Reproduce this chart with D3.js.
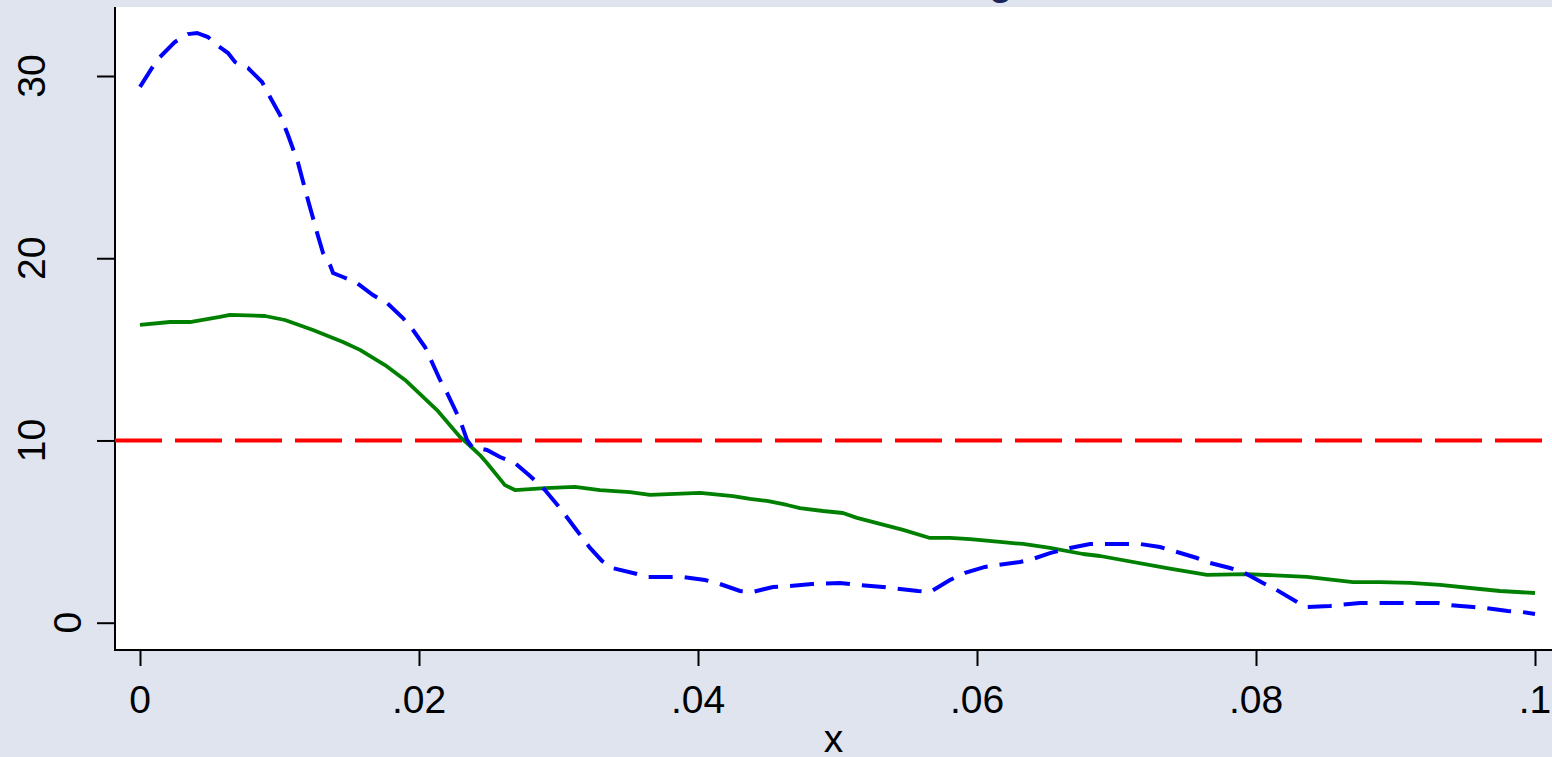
<!DOCTYPE html>
<html>
<head>
<meta charset="utf-8">
<script src="https://cdn.jsdelivr.net/npm/d3@7/dist/d3.min.js"></script>
<style>
    body { margin: 0; background: #dfe4ef; }
    svg { display: block; }
    text { font-family: "Liberation Sans", Arial, sans-serif; }
</style>
</head>
<body>
<div id="chart-area"></div>
<script>
// values
var blueX = [0, .00086, .00143, .00251, .00344, .00409, .00487, .00559, .00631, .00681,
    .00774, .00875, .00932, .01004, .01061, .01133, .01204, .01276, .01312, .01362,
    .01384, .01455, .01556, .01670, .01771, .01885, .01957, .02043, .02151, .02201,
    .02294, .02344, .02380, .02487, .02581, .02688, .02796, .02903, .03011, .03118,
    .03226, .03312, .03384, .03534, .03642, .03892, .04050, .04136, .04301, .04387,
    .04538, .04645, .04817, .05018, .05161, .05326, .05577, .05663, .05806, .05914,
    .06057, .06151, .06308, .06401, .06523, .06667, .06810, .07168, .07312, .07434,
    .07577, .07670, .07814, .07907, .08050, .08136, .08294, .08351, .08530, .08746,
    .09032, .09305, .09391, .09556, .09656, .09806, .09907, .1];
var blueY = [29.40, 30.44, 31.04, 31.87, 32.30, 32.36, 32.14, 31.65, 31.26, 30.77,
    30.44, 29.67, 28.85, 27.86, 26.76, 25.23, 23.20, 21.22, 20.29, 19.63,
    19.19, 18.97, 18.64, 17.98, 17.54, 16.72, 16.06, 15.13, 13.32, 12.61,
    11.12, 10.03, 9.64, 9.48, 9.09, 8.76, 8.05, 7.28, 6.29, 5.20,
    4.10, 3.39, 3.00, 2.73, 2.51, 2.51, 2.34, 2.18, 1.74, 1.68,
    1.96, 2.01, 2.12, 2.18, 2.07, 1.96, 1.74, 1.68, 2.34, 2.73,
    3.06, 3.17, 3.33, 3.50, 3.82, 4.10, 4.32, 4.32, 4.15, 3.88,
    3.55, 3.28, 3.00, 2.78, 2.18, 1.85, 1.14, 0.86, 0.92, 1.08,
    1.08, 1.08, 0.97, 0.86, 0.80, 0.64, 0.59, 0.48];

var greenX = [0, .00215, .00358, .00573, .00645, .00896, .01039, .01240, .01455, .01577,
    .01756, .01900, .02129, .02294, .02344, .02437, .02487, .02616, .02688, .02903,
    .03118, .03297, .03513, .03656, .04014, .04251, .04373, .04495, .04638, .04731,
    .04896, .05039, .05140, .05305, .05470, .05663, .05806, .05950, .06165, .06330,
    .06523, .06760, .06882, .07362, .07649, .07935, .08366, .08695, .08889, .09104,
    .09319, .09606, .09749, .1];
var greenY = [16.34, 16.50, 16.50, 16.78, 16.89, 16.83, 16.61, 16.06, 15.40, 14.97,
    14.14, 13.32, 11.67, 10.19, 9.86, 9.20, 8.76, 7.55, 7.28, 7.39,
    7.45, 7.28, 7.17, 7.01, 7.12, 6.95, 6.79, 6.68, 6.46, 6.29,
    6.13, 6.02, 5.75, 5.42, 5.09, 4.65, 4.65, 4.59, 4.43, 4.32,
    4.10, 3.77, 3.66, 3.00, 2.62, 2.67, 2.51, 2.23, 2.23, 2.19,
    2.07, 1.85, 1.74, 1.63];

var refLine = 10;
var xTicks = [0, .02, .04, .06, .08, .1];
var xTickLabels = ["0", ".02", ".04", ".06", ".08", ".1"];
var yTicks = [0, 10, 20, 30];
var yTickLabels = ["0", "10", "20", "30"];
var xTitle = "x";
var chartTitle = "Kernel smoothing";

var width = 1552, height = 757;
var plotLeft = 115, plotRight = 1552, plotTop = 7, plotBottom = 650;

var svg = d3.select("#chart-area").append("svg")
    .attr("width", width)
    .attr("height", height);

svg.append("rect")
    .attr("width", width)
    .attr("height", height)
    .attr("fill", "#dfe4ef");

// title sits mostly above the window, only the tail of the g shows
svg.append("text")
    .attr("x", 1013)
    .attr("y", -6)
    .attr("text-anchor", "end")
    .attr("font-size", 44)
    .attr("fill", "#1a2459")
    .text(chartTitle);

svg.append("rect")
    .attr("x", plotLeft)
    .attr("y", plotTop)
    .attr("width", plotRight - plotLeft)
    .attr("height", plotBottom - plotTop)
    .attr("fill", "white");

var xScale = d3.scaleLinear()
    .domain([0, 0.1])
    .range([140, 1535]);

var yScale = d3.scaleLinear()
    .domain([0, 30])
    .range([622.7, 76]);

// Y AXIS
var yAxis = d3.axisLeft(yScale)
    .tickValues(yTicks)
    .tickSize(18)
    .tickFormat("");

var gy = svg.append("g")
    .attr("transform", "translate(" + plotLeft + ",0)")
    .call(yAxis);
gy.select(".domain").remove();
gy.selectAll(".tick line").attr("stroke", "black").attr("stroke-width", 2);

svg.append("line")
    .attr("x1", plotLeft).attr("x2", plotLeft)
    .attr("y1", plotTop).attr("y2", plotBottom + 1)
    .attr("stroke", "black")
    .attr("stroke-width", 2);

svg.selectAll(".ylabel")
    .data(yTicks)
    .enter()
    .append("text")
    .attr("class", "ylabel")
    .attr("font-size", 39)
    .attr("text-anchor", "middle")
    .attr("transform", function(d, i) {
        var bx = 117 - 36 * yTickLabels[i].length;
        return "translate(" + bx + "," + yScale(d) + ") rotate(-90)";
    })
    .text(function(d, i) { return yTickLabels[i]; });

// X AXIS
var xAxis = d3.axisBottom(xScale)
    .tickValues(xTicks)
    .tickSize(16)
    .tickFormat("");

var gx = svg.append("g")
    .attr("transform", "translate(0," + plotBottom + ")")
    .call(xAxis);
gx.select(".domain").remove();
gx.selectAll(".tick line").attr("stroke", "black").attr("stroke-width", 2);

svg.append("line")
    .attr("x1", plotLeft - 1).attr("x2", plotRight)
    .attr("y1", plotBottom).attr("y2", plotBottom)
    .attr("stroke", "black")
    .attr("stroke-width", 2);

svg.selectAll(".xlabel")
    .data(xTicks)
    .enter()
    .append("text")
    .attr("class", "xlabel")
    .attr("font-size", 39)
    .attr("text-anchor", "middle")
    .attr("x", function(d) { return xScale(d); })
    .attr("y", 713)
    .text(function(d, i) { return xTickLabels[i]; });

svg.append("text")
    .attr("x", (plotLeft + plotRight) / 2)
    .attr("y", 752)
    .attr("font-size", 39)
    .attr("text-anchor", "middle")
    .text(xTitle);

// RENDER
var plot = svg.append("g");

plot.append("line")
    .attr("x1", plotLeft)
    .attr("x2", plotRight)
    .attr("y1", yScale(refLine))
    .attr("y2", yScale(refLine))
    .attr("stroke", "#ff0000")
    .attr("stroke-width", 4)
    .attr("stroke-dasharray", "47,13");

var line = d3.line()
    .x(function(d) { return xScale(d[0]); })
    .y(function(d) { return yScale(d[1]); });

plot.append("path")
    .datum(d3.zip(greenX, greenY))
    .attr("d", line)
    .attr("fill", "none")
    .attr("stroke", "#008000")
    .attr("stroke-width", 3.8)
    .attr("stroke-linejoin", "round");

plot.append("path")
    .datum(d3.zip(blueX, blueY))
    .attr("d", line)
    .attr("fill", "none")
    .attr("stroke", "#0000ff")
    .attr("stroke-width", 4)
    .attr("stroke-dasharray", "24,12");
</script>
</body>
</html>
